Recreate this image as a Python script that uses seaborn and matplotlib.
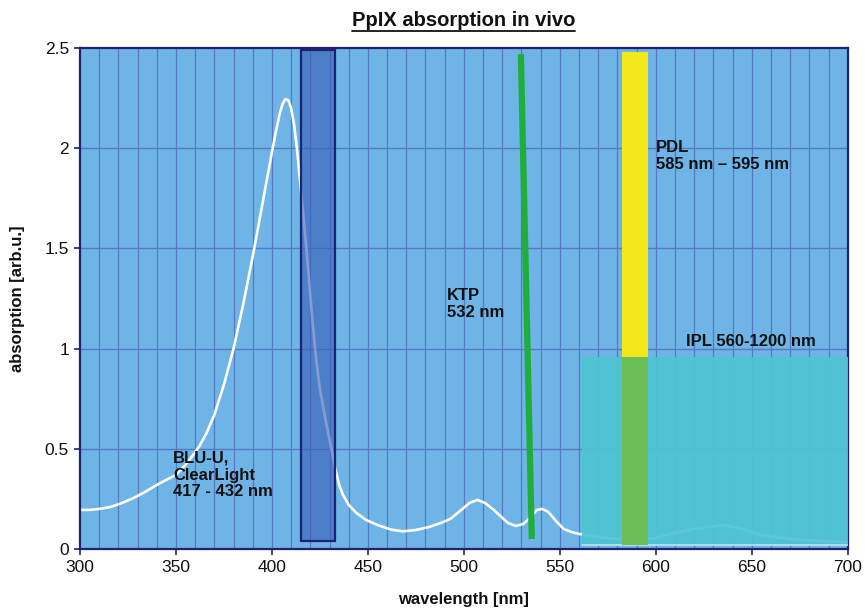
import numpy as np
import pandas as pd
import matplotlib
matplotlib.use('Agg')
import matplotlib.pyplot as plt
import seaborn as sns
from matplotlib.patches import Rectangle
from matplotlib.lines import Line2D

# PpIX absorption curve
wavelength = [300, 305, 310, 316, 322, 328, 333, 340, 346, 350, 355, 359, 362, 366,
              370, 375, 380, 385, 390, 395, 400, 402, 404, 405.5, 407, 408.5, 410,
              411.5, 413, 415, 417, 419, 421, 423, 425, 428, 431, 433, 435, 437, 440,
              444, 449, 455, 462, 468, 475, 482, 488, 493, 498, 503, 507, 511, 515,
              519, 523, 527, 531, 535, 538, 541, 544, 548, 552, 556, 560, 570, 580,
              599, 610, 620, 635, 645, 655, 670, 685, 700]
absorption = [0.195, 0.195, 0.2, 0.21, 0.23, 0.255, 0.28, 0.32, 0.35, 0.37, 0.42, 0.47,
              0.51, 0.58, 0.67, 0.82, 1.0, 1.22, 1.46, 1.72, 1.98, 2.08, 2.17, 2.22,
              2.245, 2.24, 2.2, 2.12, 2.0, 1.8, 1.6, 1.38, 1.15, 0.95, 0.8, 0.64, 0.5,
              0.4, 0.32, 0.27, 0.22, 0.18, 0.145, 0.12, 0.097, 0.088, 0.095, 0.11,
              0.13, 0.15, 0.19, 0.23, 0.245, 0.23, 0.2, 0.165, 0.13, 0.115, 0.125, 0.16,
              0.195, 0.2, 0.185, 0.14, 0.1, 0.085, 0.075, 0.06, 0.05, 0.053, 0.08, 0.1,
              0.12, 0.1, 0.07, 0.05, 0.04, 0.035]

# light sources (x range in nm, y range in arb.u.)
blu_x = [415, 432.8]
blu_y = [0.04, 2.49]
ktp_x = [529.7, 535.4]     # top, bottom (drawn slanted)
ktp_y = [2.47, 0.05]
pdl_x = [582.3, 595.8]
pdl_y = [0.02, 2.48]
ipl_x = [561.5, 700]
ipl_y = [0.02, 0.96]

labels = {
    'blu': (348.5, 0.49, 'BLU-U,\nClearLight\n417 - 432 nm'),
    'ktp': (491, 1.3, 'KTP\n532 nm'),
    'pdl': (600, 2.04, 'PDL\n585 nm \u2013 595 nm'),
    'ipl': (616, 1.0, 'IPL 560-1200 nm'),
}

x_ticks = [300, 350, 400, 450, 500, 550, 600, 650, 700]
y_ticks = [0, 0.5, 1, 1.5, 2, 2.5]
y_tick_labels = ['0', '0.5', '1', '1.5', '2', '2.5']

sns.set_theme(style='white')
plt.rcParams['font.family'] = ['Liberation Sans', 'DejaVu Sans']

navy = '#1b2470'
bg_blue = '#6eb4e6'
grid_blue = '#5878c4'

df = pd.DataFrame({'wavelength': wavelength, 'absorption': absorption})

fig = plt.figure(figsize=(8.65, 6.1), dpi=100)
ax = fig.add_axes([0.0925, 0.1, 0.8875, 0.8213])
ax.set_facecolor(bg_blue)

# grid
for gx in np.arange(310, 700, 10):
    ax.axvline(gx, color=grid_blue, lw=0.9, zorder=1)
for gy in [0.5, 1.0, 1.5, 2.0]:
    ax.axhline(gy, color=grid_blue, lw=1.0, zorder=1)

sns.lineplot(data=df, x='wavelength', y='absorption', ax=ax, color='white',
             lw=1.9, zorder=2)

# BLU-U box
ax.add_patch(Rectangle((blu_x[0], blu_y[0]), blu_x[1] - blu_x[0], blu_y[1] - blu_y[0],
                       facecolor='#3a5fb8', alpha=0.62, edgecolor='none', zorder=3))
ax.add_patch(Rectangle((blu_x[0], blu_y[0]), blu_x[1] - blu_x[0], blu_y[1] - blu_y[0],
                       facecolor='none', edgecolor=navy, lw=1.6, zorder=3))

# IPL box
ax.add_patch(Rectangle((ipl_x[0], ipl_y[0]), ipl_x[1] - ipl_x[0], ipl_y[1] - ipl_y[0],
                       facecolor='#4fc4d2', alpha=0.93, edgecolor='none', zorder=3))
ax.plot([ipl_x[0], ipl_x[1]], [ipl_y[0], ipl_y[0]], color='#b8e8ee', lw=1.2, zorder=3)

# PDL bar: yellow above IPL, green where it overlaps
ax.add_patch(Rectangle((pdl_x[0], ipl_y[1]), pdl_x[1] - pdl_x[0], pdl_y[1] - ipl_y[1],
                       facecolor='#f2e81a', edgecolor='none', zorder=4))
ax.add_patch(Rectangle((pdl_x[0], pdl_y[0]), pdl_x[1] - pdl_x[0], ipl_y[1] - pdl_y[0],
                       facecolor='#6dbf4f', alpha=0.95, edgecolor='none', zorder=4))

# KTP line
ax.plot(ktp_x, ktp_y, color='#1fae3c', lw=4.5, solid_capstyle='butt', zorder=5)

# labels
for key, (lx, ly, txt) in labels.items():
    va = 'bottom' if key == 'ipl' else 'top'
    ax.text(lx, ly, txt, fontsize=12, fontweight='bold', color='#111111',
            ha='left', va=va, linespacing=1.15, zorder=6)

ax.set_xlim(300, 700)
ax.set_ylim(0, 2.5)
ax.set_xticks(x_ticks)
ax.set_yticks(y_ticks)
ax.set_yticklabels(y_tick_labels)
ax.tick_params(axis='both', which='major', direction='out', length=4, width=1.2,
               color=navy, labelsize=12.5, labelcolor='#111111', pad=4,
               bottom=True, left=True)
for side in ['left', 'bottom', 'right', 'top']:
    ax.spines[side].set_visible(True)
    ax.spines[side].set_color(navy)
    ax.spines[side].set_linewidth(1.6)

ax.set_xlabel('wavelength [nm]', fontsize=12, fontweight='bold', color='#111111',
              labelpad=12)
ax.set_ylabel('absorption [arb.u.]', fontsize=12, fontweight='bold', color='#111111',
              labelpad=14)

title = fig.text(0.536, 0.966, 'PpIX absorption in vivo', fontsize=14.5,
                 fontweight='bold', ha='center', va='center', color='#111111')

# underline the title
fig.canvas.draw()
bb = title.get_window_extent(renderer=fig.canvas.get_renderer())
W, H = fig.get_size_inches() * fig.dpi
uy = (bb.y0 - 1) / H
fig.add_artist(Line2D([bb.x0 / W, bb.x1 / W], [uy, uy], color='#111111', lw=1.3,
                      transform=fig.transFigure))

fig.savefig('out.png', dpi=100, facecolor='white')
